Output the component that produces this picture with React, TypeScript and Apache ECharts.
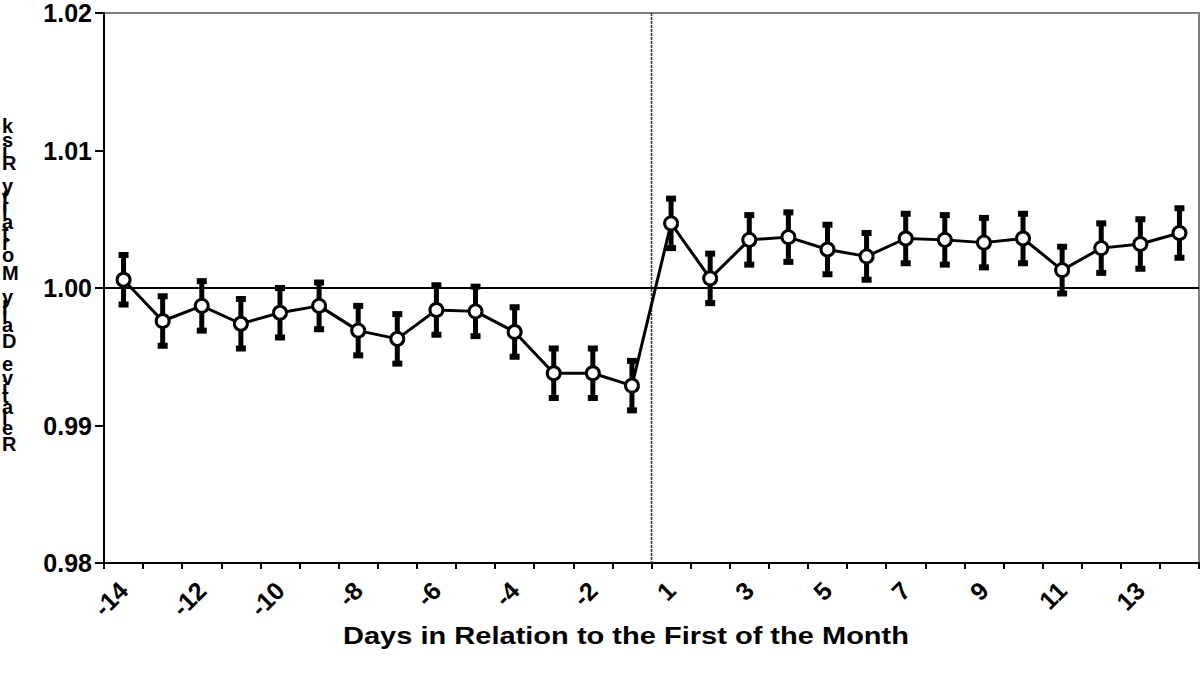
import React, { useEffect, useRef } from 'react';
import * as echarts from 'echarts';

const days = ['-14', '-13', '-12', '-11', '-10', '-9', '-8', '-7', '-6', '-5', '-4', '-3', '-2', '-1',
  '1', '2', '3', '4', '5', '6', '7', '8', '9', '10', '11', '12', '13', '14'];
const ratio = [1.0006, 0.9976, 0.9987, 0.9974, 0.9982, 0.9987, 0.9969, 0.9963, 0.9984, 0.9983, 0.9968, 0.9938, 0.9938, 0.9929,
  1.0047, 1.0007, 1.0035, 1.0037, 1.0028, 1.0023, 1.0036, 1.0035, 1.0033, 1.0036, 1.0013, 1.0029, 1.0032, 1.0040];
const errorHalf = [0.0018, 0.0018, 0.0018, 0.0018, 0.0018, 0.0017, 0.0018, 0.0018, 0.0018, 0.0018, 0.0018, 0.0018, 0.0018, 0.0018,
  0.0018, 0.0018, 0.0018, 0.0018, 0.0018, 0.0017, 0.0018, 0.0018, 0.0018, 0.0018, 0.0017, 0.0018, 0.0018, 0.0018];
const yMin = 0.98;
const yMax = 1.02;
const yStep = 0.01;
const refValue = 1.0;
const breakAfter = '-1';
const yTitle = 'Relative Daily Mortality Risk';
const xTitle = 'Days in Relation to the First of the Month';

const FONT = "'Liberation Sans', Arial, sans-serif";

function stackedTitle(): any[] {
  const canvas = document.createElement('canvas');
  const ctx = canvas.getContext('2d') as CanvasRenderingContext2D;
  ctx.font = `bold 25px ${FONT}`;
  const els: any[] = [];
  let cum = 0;
  const bottom = 453;
  for (const ch of yTitle) {
    const w = ctx.measureText(ch).width;
    if (ch !== ' ') {
      els.push({
        type: 'text',
        x: 2,
        y: bottom - (cum + w / 2),
        style: {
          text: ch,
          fontFamily: FONT,
          fontWeight: 'bold',
          fontSize: 20,
          fill: '#000',
          textAlign: 'left',
          textVerticalAlign: 'middle',
        },
      });
    }
    cum += w;
  }
  return els;
}

export default function App() {
  const ref = useRef<HTMLDivElement>(null);
  useEffect(() => {
    document.body.style.margin = '0';
    const chart = echarts.init(ref.current as HTMLDivElement, null, { renderer: 'svg' });
    const errData = days.map((d, i) => [i, ratio[i] - errorHalf[i], ratio[i] + errorHalf[i]]);
    const breakIdx = days.indexOf(breakAfter);
    const option: any = {
      animation: false,
      backgroundColor: '#fff',
      grid: {
        left: 104, right: 4, top: 13, bottom: 110,
        show: true, borderColor: '#808080', borderWidth: 2,
      },
      xAxis: {
        type: 'category',
        data: days,
        boundaryGap: true,
        axisLine: { lineStyle: { color: '#000', width: 2 } },
        axisTick: { show: true, interval: 0, length: 6, lineStyle: { color: '#000', width: 2 } },
        axisLabel: {
          interval: 1, rotate: 45, margin: 23,
          fontFamily: FONT, fontWeight: 'bold', fontSize: 25, color: '#000',
        },
        splitLine: { show: false },
      },
      yAxis: {
        type: 'value',
        min: yMin, max: yMax, interval: yStep,
        axisLine: { show: true, lineStyle: { color: '#000', width: 2 } },
        axisTick: { show: true, length: 9, lineStyle: { color: '#000', width: 2 } },
        axisLabel: {
          margin: 12,
          formatter: (v: number) => v.toFixed(2),
          fontFamily: FONT, fontWeight: 'bold', fontSize: 25, color: '#000',
        },
        splitLine: { show: false },
      },
      graphic: [
        ...stackedTitle(),
        {
          type: 'text',
          x: 626, y: 636,
          scaleX: 1.21,
          style: {
            text: xTitle, fontFamily: FONT, fontWeight: 'bold', fontSize: 24, fill: '#000',
            textAlign: 'center', textVerticalAlign: 'middle',
          },
        },
      ],
      series: [
        {
          type: 'custom',
          name: 'break',
          data: [[breakIdx, yMin, yMax]],
          z: 1,
          silent: true,
          renderItem: (params: any, api: any) => {
            const idx = api.value(0);
            const top = api.coord([idx, api.value(2)]);
            const bot = api.coord([idx, api.value(1)]);
            const band = api.size([1, 0])[0];
            const x = top[0] + band / 2;
            return {
              type: 'line',
              shape: { x1: x, y1: top[1], x2: x, y2: bot[1] },
              style: { stroke: '#333', lineWidth: 1.5, lineDash: [3, 1] },
            };
          },
        },
        {
          type: 'custom',
          name: 'error',
          data: errData,
          z: 2,
          silent: true,
          renderItem: (params: any, api: any) => {
            const idx = api.value(0);
            const lo = api.coord([idx, api.value(1)]);
            const hi = api.coord([idx, api.value(2)]);
            const capW = 10;
            const capH = 6;
            return {
              type: 'group',
              children: [
                { type: 'line', shape: { x1: lo[0], y1: lo[1], x2: hi[0], y2: hi[1] }, style: { stroke: '#000', lineWidth: 5 } },
                { type: 'rect', shape: { x: hi[0] - capW / 2, y: hi[1] - capH / 2, width: capW, height: capH }, style: { fill: '#000' } },
                { type: 'rect', shape: { x: lo[0] - capW / 2, y: lo[1] - capH / 2, width: capW, height: capH }, style: { fill: '#000' } },
              ],
            };
          },
        },
        {
          type: 'line',
          name: 'ratio',
          data: ratio,
          z: 3,
          symbol: 'circle',
          symbolSize: 13,
          lineStyle: { color: '#000', width: 3 },
          itemStyle: { color: '#fff', borderColor: '#000', borderWidth: 3 },
          markLine: {
            silent: true,
            symbol: 'none',
            label: { show: false },
            lineStyle: { color: '#000', width: 2, type: 'solid' },
            data: [{ yAxis: refValue }],
          },
        },
      ],
    };
    chart.setOption(option);
    return () => chart.dispose();
  }, []);
  return <div ref={ref} style={{ width: 1203, height: 673 }} />;
}
